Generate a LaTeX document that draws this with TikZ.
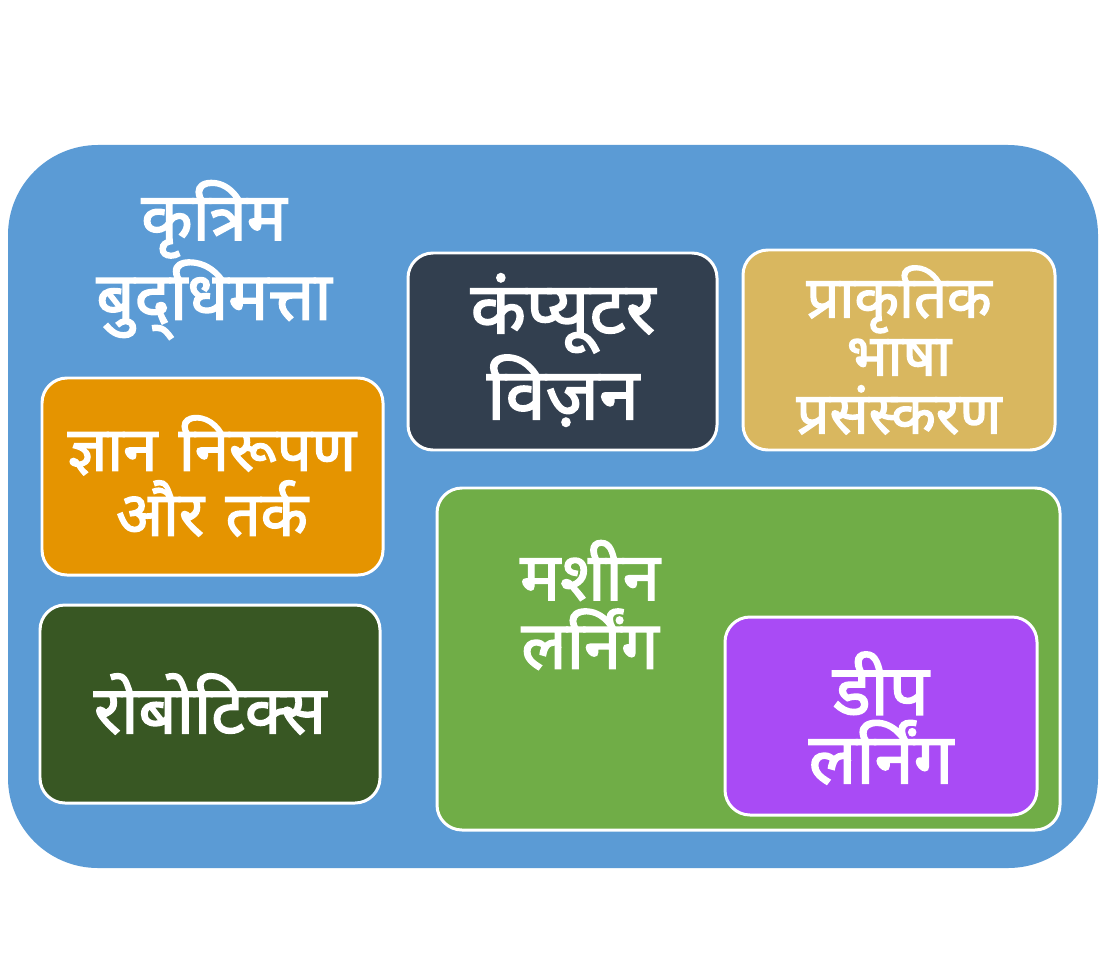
\documentclass[tikz,border=0pt]{standalone}
\usepackage{fontspec}
\newfontfamily\hindi[Script=Devanagari, FakeBold=2.2]{Noto Sans}
\usepackage{xcolor}
\definecolor{aiblue}{HTML}{5B9BD5}
\definecolor{krorange}{HTML}{E59400}
\definecolor{robgreen}{HTML}{385723}
\definecolor{cvnavy}{HTML}{323F4F}
\definecolor{nlptan}{HTML}{D9B75F}
\definecolor{mlgreen}{HTML}{70AD47}
\definecolor{dlpurple}{HTML}{A94BF5}
\tikzset{
    boxline/.style={draw=white, line width=1.7pt, rounded corners=0.5cm},
    label/.style={text=white, font=\hindi\fontsize{38}{39}\selectfont, align=center}
}

\begin{document}
\begin{tikzpicture}[x=0.02cm,y=-0.02cm]
\fill[white] (0,0) rectangle (1104,973);
\useasboundingbox (0,0) rectangle (1104,973);
\fill[aiblue, rounded corners=1.8cm] (8,145) rectangle (1098,868);
\foreach \xa/\ya/\xb/\yb/\col/\nm in {42/378/383/575/krorange/kr, 40/605/380/803/robgreen/rob, 408/253/717/450/cvnavy/cv, 743/250/1055/450/nlptan/nlp, 437/488/1060/830/mlgreen/ml, 725/617/1037/815/dlpurple/dl}{
    \draw[boxline, fill=\col] (\xa,\ya) rectangle (\xb,\yb);
    \coordinate (\nm) at ({(\xa+\xb)/2},{(\ya+\yb)/2});
}
\node[label, font=\hindi\fontsize{38}{37}\selectfont] (ait) at (214,260) {कृत्रिम\\बुद्^^^^200cधिमत्ता};
\node[label, font=\hindi\fontsize{35}{37}\selectfont] (krt) at (212,476) {ज्ञान\hspace{0.35em}निरूपण\\और\hspace{0.35em}तर्क};
\node[label] (robt) at (rob) {रोबोटिक्स};
\node[label, font=\hindi\fontsize{41}{38}\selectfont] (cvt) at (563,350) {कंप्यूटर\\विज़न};
\node[label, font=\hindi\fontsize{33}{33}\selectfont] (nlpt) at (nlp) {प्राकृतिक\\भाषा\\प्रसंस्करण};
\node[label] (mlt) at (590,605) {मशीन\\लर्निंग};
\node[label, font=\hindi\fontsize{40}{39}\selectfont] (dlt) at (881,718) {डीप\\लर्निंग};
\end{tikzpicture}
\end{document}
